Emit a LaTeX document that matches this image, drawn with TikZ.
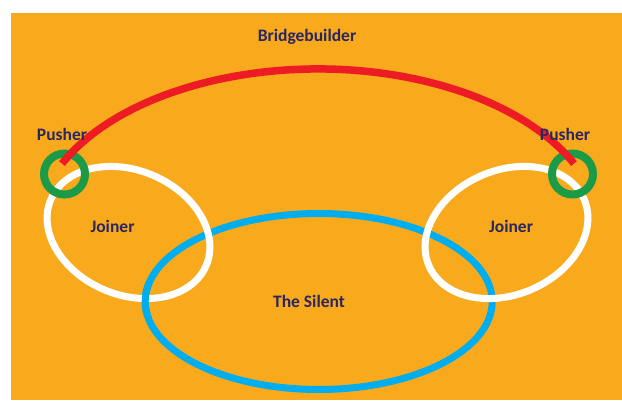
\documentclass[tikz,border=0pt]{standalone}
\usepackage{fontspec}
\setmainfont{Carlito}

\definecolor{bgorange}{HTML}{F9AA1C}
\definecolor{bridgered}{HTML}{ED1C24}
\definecolor{pushgreen}{HTML}{1B9B48}
\definecolor{silentblue}{HTML}{00AEEF}
\definecolor{textnavy}{HTML}{2A2760}

\begin{document}
\begin{tikzpicture}[x = 1pt, y = 1pt,
	word/.style = {text = textnavy, font = \bfseries\fontsize{17.5}{20}\selectfont},
	ring/.style = {line width = 7pt}]

	% Background
	
	\useasboundingbox (0, 0) rectangle (622, 400);
	\fill [bgorange] (11, 0) rectangle (622, 387);
	
	% The Silent
	
	\draw [ring, silentblue] (318.7, 98.5) ellipse [x radius = 173.5pt, y radius = 88pt];
	
	% Joiners
	
	\foreach \cx/\ang in {128.5/-23, 506.5/23}
		\draw [ring, white, shift = {(\cx, 167.5)}, rotate = \ang] (0, 0) ellipse [x radius = 84.4pt, y radius = 62.2pt];
	
	% blue back on top at the lower left crossing
	
	\begin{scope}
		\clip (132, 84) rectangle (164, 118);
		\draw [ring, silentblue] (318.7, 98.5) ellipse [x radius = 173.5pt, y radius = 88pt];
	\end{scope}
	
	% Pushers + bridge
	
	\foreach \cx in {64.5, 572.5}
		\draw [line width = 8pt, pushgreen] (\cx, 226) circle [radius = 20.5pt];
	
	\draw [line width = 7.5pt, bridgered] (62, 236.4) arc [start angle = 155.2, end angle = 24.8, x radius = 282pt, y radius = 163pt];
	
	% Labels
	
	\node [word] (bridge) at (307, 363) {Bridgebuilder};
	\node [word] (pushleft) at (62, 266) {Pusher};
	\node [word] (pushright) at (565, 266) {Pusher};
	\node [word] (joinleft) at (112.5, 174) {Joiner};
	\node [word] (joinright) at (511, 174) {Joiner};
	\node [word] (silent) at (309, 99) {The Silent};

\end{tikzpicture}
\end{document}
